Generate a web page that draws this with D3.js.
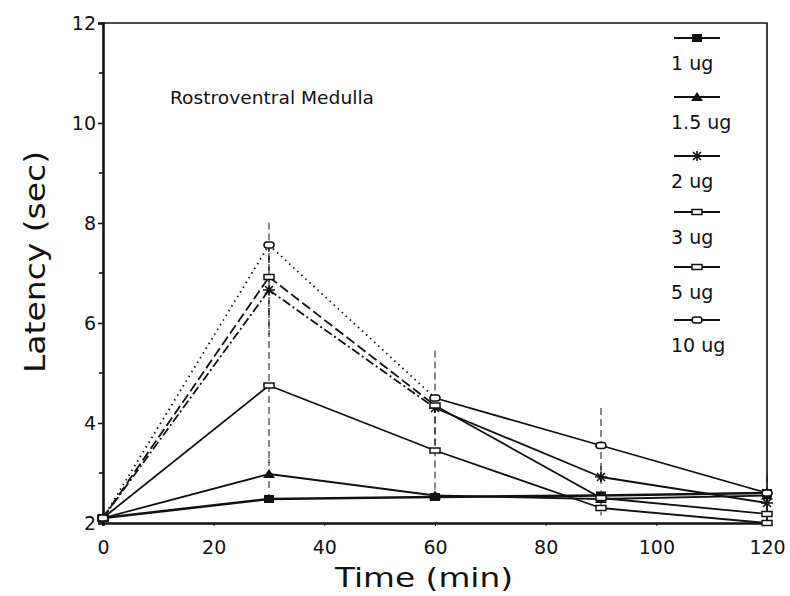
<!DOCTYPE html>
<html>
<head>
<meta charset="utf-8">
<script src="https://cdn.jsdelivr.net/npm/d3@7/dist/d3.min.js"></script>
<style>
  body { margin: 0; background: #fff; }
  text { font-family: "DejaVu Sans", sans-serif; fill: #111; }
</style>
</head>
<body>
<svg id="chart" width="790" height="596"></svg>
<script>
// time points (min)
const times = [0, 30, 60, 90, 120];
const doses = ["1 ug", "1.5 ug", "2 ug", "3 ug", "5 ug", "10 ug"];

// latency (sec)
const lat1 = [2.1, 2.48, 2.52, 2.55, 2.6];
const lat15 = [2.1, 2.98, 2.55, 2.48, 2.55];
const lat2 = [2.1, 6.66, 4.3, 2.92, 2.4];
const lat3 = [2.1, 4.75, 3.45, 2.3, 2.0];
const lat5 = [2.1, 6.92, 4.35, 2.5, 2.18];
const lat10 = [2.1, 7.56, 4.5, 3.55, 2.6];

// error bar half-lengths
const err1 = [0, 0.1, 0.08, 0.1, 0.1];
const err15 = [0, 0.3, 0, 0, 0];
const err2 = [0, 0.9, 0, 0.22, 0];
const err3 = [0, 1.55, 0.9, 0.15, 0];
const err5 = [0, 0.7, 0, 0, 0.15];
const err10 = [0, 0.45, 0.95, 0.75, 0.35];

const yTicks = [2, 4, 6, 8, 10, 12];
const yMinor = [3, 5, 7, 9, 11];
const xTicks = [0, 20, 40, 60, 80, 100, 120];

const series = [
  { name: doses[0], vals: lat1, err: err1, mark: "square", dash: null },
  { name: doses[1], vals: lat15, err: err15, mark: "triangle", dash: null },
  { name: doses[2], vals: lat2, err: err2, mark: "cross", dash: "9,3,2,3" },
  { name: doses[3], vals: lat3, err: err3, mark: "bar", dash: null },
  { name: doses[4], vals: lat5, err: err5, mark: "bar", dash: "10,4" },
  { name: doses[5], vals: lat10, err: err10, mark: "ring", dash: "1.5,4" }
];

const svg = d3.select("#chart");
const x = d3.scaleLinear().domain([0, 120]).range([103, 767]);
const y = d3.scaleLinear().domain([2, 12]).range([523, 23]);

// frame (top + right)
svg.append("path")
  .attr("d", `M${x(0)},${y(12)}H${x(120)}V${y(2)}`)
  .attr("fill", "none").attr("stroke", "#111").attr("stroke-width", 1.6);

// y axis
const yAxis = svg.append("g").attr("transform", `translate(${x(0)},0)`)
  .call(d3.axisLeft(y).tickValues(yTicks).tickSize(5).tickPadding(2).tickFormat(d3.format("d")));
yAxis.select(".domain").attr("stroke-width", 2.6).attr("stroke", "#111");
yAxis.selectAll(".tick line").attr("stroke-width", 1.6).attr("stroke", "#111");
yAxis.selectAll("text").style("font-size", "19px").attr("fill", "#111");
svg.append("g").selectAll("line").data(yMinor).join("line")
  .attr("x1", x(0) - 4).attr("x2", x(0))
  .attr("y1", d => y(d)).attr("y2", d => y(d))
  .attr("stroke", "#111").attr("stroke-width", 1.6);

// x axis
const xAxis = svg.append("g").attr("transform", `translate(0,${y(2)})`)
  .call(d3.axisBottom(x).tickValues(xTicks).tickSize(3).tickPadding(15).tickFormat(d3.format("d")));
xAxis.select(".domain").attr("stroke-width", 2.6).attr("stroke", "#111");
xAxis.selectAll(".tick line").attr("stroke-width", 1).attr("stroke", "#111");
xAxis.selectAll("text").style("font-size", "19px").attr("fill", "#111");

// axis titles
svg.append("text")
  .attr("x", 424).attr("y", 587)
  .attr("text-anchor", "middle")
  .attr("textLength", 178).attr("lengthAdjust", "spacingAndGlyphs")
  .style("font-size", "27px")
  .text("Time (min)");
svg.append("text")
  .attr("transform", "translate(45,262) rotate(-90)")
  .attr("text-anchor", "middle")
  .attr("textLength", 222).attr("lengthAdjust", "spacingAndGlyphs")
  .style("font-size", "28px")
  .text("Latency (sec)");

svg.append("text")
  .attr("x", 170).attr("y", 104)
  .attr("textLength", 204).attr("lengthAdjust", "spacingAndGlyphs")
  .style("font-size", "18px")
  .text("Rostroventral Medulla");

function marker(g, type, cx, cy) {
  const m = g.append("g").attr("transform", `translate(${cx},${cy})`);
  if (type === "square") {
    m.append("rect").attr("x", -5).attr("y", -4).attr("width", 10).attr("height", 8).attr("fill", "#111");
  } else if (type === "triangle") {
    m.append("path").attr("d", "M-6,4L0,-5L6,4Z").attr("fill", "#111");
  } else if (type === "cross") {
    m.append("path").attr("d", "M-4,-4L4,4M-4,4L4,-4M-6,0H6M0,-5V5")
      .attr("stroke", "#111").attr("stroke-width", 1.6).attr("fill", "none");
  } else if (type === "bar") {
    m.append("rect").attr("x", -5).attr("y", -2.5).attr("width", 10).attr("height", 5)
      .attr("fill", "#fff").attr("stroke", "#111").attr("stroke-width", 1.5);
  } else {
    m.append("rect").attr("x", -5).attr("y", -3).attr("width", 10).attr("height", 6).attr("rx", 3)
      .attr("fill", "#fff").attr("stroke", "#111").attr("stroke-width", 1.6);
  }
}

const plot = svg.append("g");

// error bars
series.forEach(s => {
  plot.append("g").selectAll("line")
    .data(times.map((t, i) => ({ t, v: s.vals[i], e: s.err[i] })).filter(d => d.e > 0))
    .join("line")
    .attr("x1", d => x(d.t)).attr("x2", d => x(d.t))
    .attr("y1", d => y(d.v + d.e)).attr("y2", d => y(d.v - d.e))
    .attr("stroke", "#111").attr("stroke-width", 1)
    .attr("stroke-dasharray", "7,4");
});

// lines: the early segments carry each series' dash, later ones are solid
series.forEach(s => {
  const segs = d3.pairs(times.map((t, i) => [t, s.vals[i]]));
  plot.append("g").selectAll("line").data(segs).join("line")
    .attr("x1", d => x(d[0][0])).attr("y1", d => y(d[0][1]))
    .attr("x2", d => x(d[1][0])).attr("y2", d => y(d[1][1]))
    .attr("stroke", "#111")
    .attr("stroke-width", s.mark === "square" ? 2.6 : 1.8)
    .attr("stroke-dasharray", (d, i) => (i < 2 ? s.dash : null));
});

series.forEach(s => {
  const g = plot.append("g");
  times.forEach((t, i) => marker(g, s.mark, x(t), y(s.vals[i])));
});

// legend
const legend = svg.append("g").attr("transform", "translate(674,0)");
const legY = [38, 97, 156, 212, 267, 320];
series.forEach((s, i) => {
  legend.append("line")
    .attr("x1", 0).attr("x2", 46).attr("y1", legY[i]).attr("y2", legY[i])
    .attr("stroke", "#111").attr("stroke-width", 1.8);
  marker(legend, s.mark, 23, legY[i]);
  legend.append("text")
    .attr("x", -3).attr("y", legY[i] + 32)
    .style("font-size", "19px")
    .text(s.name);
});
</script>
</body>
</html>
